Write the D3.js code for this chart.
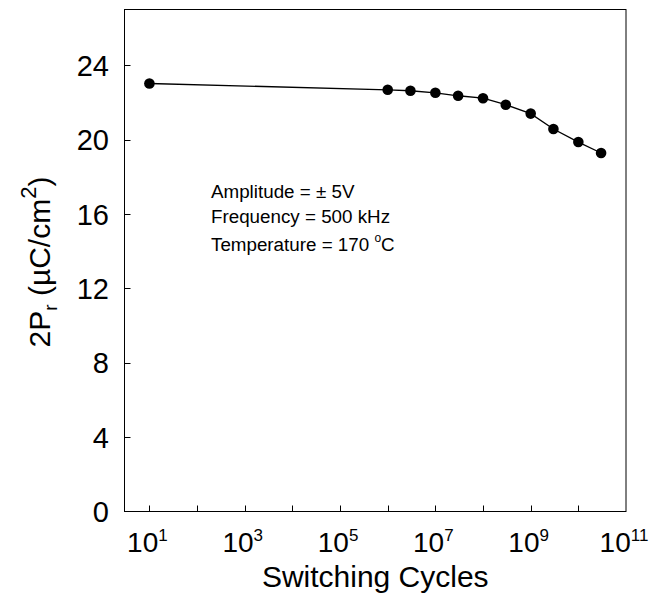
<!DOCTYPE html>
<head>
<meta charset="utf-8">
<style>
  body { margin: 0; background: #fff; }
  text { font-family: Arial, "Liberation Sans", sans-serif; fill: #000; }
</style>
</head>
<body>
<div id='chart'></div>
<script src="https://cdnjs.cloudflare.com/ajax/libs/d3/7.8.5/d3.min.js"></script>
<script>
var cycles = [1e1, 1e6, 3e6, 1e7, 3e7, 1e8, 3e8, 1e9, 3e9, 1e10, 3e10];
var pr2 = [23.02, 22.68, 22.63, 22.52, 22.36, 22.23, 21.88, 21.40, 20.57, 19.87, 19.28];
var xMajor = [1, 3, 5, 7, 9, 11];
var yTicks = [0, 4, 8, 12, 16, 20, 24];
var notes = ['Amplitude = \u00b1 5V', 'Frequency = 500 kHz', 'Temperature = 170 '];

drawChart();

function drawChart() {
  var width = 657, height = 602;
  var left = 124.5, right = 626, top = 9.5, bottom = 511.5;

  var svg = d3.select('#chart').append('svg')
    .attr('width', width)
    .attr('height', height);

  var x = d3.scaleLog().domain([3, 1e11]).range([left, right]);
  var y = d3.scaleLinear().domain([0, 27]).range([bottom, top]);

  // frame
  svg.append('rect')
    .attr('x', left).attr('y', top)
    .attr('width', right - left).attr('height', bottom - top)
    .attr('fill', 'none').attr('stroke', '#000').attr('stroke-width', 1);

  // x ticks, one per decade, pointing in
  var decades = d3.range(1, 11).map(function(e) { return Math.pow(10, e); });
  svg.selectAll('line.xtick').data(decades).enter().append('line')
    .attr('class', 'xtick')
    .attr('x1', function(d) { return Math.round(x(d)) + 0.5; })
    .attr('x2', function(d) { return Math.round(x(d)) + 0.5; })
    .attr('y1', bottom).attr('y2', bottom - 6)
    .attr('stroke', '#000').attr('stroke-width', 1);

  var xl = svg.selectAll('text.xlab').data(xMajor).enter().append('text')
    .attr('class', 'xlab')
    .attr('x', function(d) { return x(Math.pow(10, d)) - 2; })
    .attr('y', 552)
    .attr('text-anchor', 'middle')
    .style('font-size', '28px');
  xl.append('tspan').text('10');
  xl.append('tspan')
    .attr('dy', -11)
    .style('font-size', '17px')
    .text(function(d) { return d; });

  // y ticks
  svg.selectAll('line.ytick').data(yTicks.slice(1)).enter().append('line')
    .attr('class', 'ytick')
    .attr('x1', left).attr('x2', left + 6)
    .attr('y1', function(d) { return Math.round(y(d)) + 0.5; })
    .attr('y2', function(d) { return Math.round(y(d)) + 0.5; })
    .attr('stroke', '#000').attr('stroke-width', 1);

  svg.selectAll('text.ylab').data(yTicks).enter().append('text')
    .attr('class', 'ylab')
    .attr('x', 109)
    .attr('y', function(d) { return y(d) + 10.5; })
    .attr('text-anchor', 'end')
    .style('font-size', '29px')
    .text(function(d) { return d; });

  // axis titles
  svg.append('text')
    .attr('x', (left + right) / 2)
    .attr('y', 587)
    .attr('text-anchor', 'middle')
    .style('font-size', '30px')
    .text('Switching Cycles');

  var yt = svg.append('text')
    .attr('transform', 'translate(50,262) rotate(-90)')
    .attr('text-anchor', 'middle')
    .style('font-size', '30px');
  yt.append('tspan').text('2P');
  yt.append('tspan').attr('dy', 7).style('font-size', '19px').text('r');
  yt.append('tspan').attr('dy', -7).text(' (\u00b5C/cm');
  yt.append('tspan').attr('dy', -14).style('font-size', '22px').text('2');
  yt.append('tspan').attr('dy', 14).text(')');

  // data line and markers
  var pts = cycles.map(function(c, i) { return [c, pr2[i]]; });
  var line = d3.line()
    .x(function(d) { return x(d[0]); })
    .y(function(d) { return y(d[1]); });

  svg.append('path')
    .datum(pts)
    .attr('d', line)
    .attr('fill', 'none')
    .attr('stroke', '#000')
    .attr('stroke-width', 1.3);

  svg.selectAll('circle.pt').data(pts).enter().append('circle')
    .attr('class', 'pt')
    .attr('cx', function(d) { return x(d[0]); })
    .attr('cy', function(d) { return y(d[1]); })
    .attr('r', 5.3)
    .attr('fill', '#000');

  // annotation
  var nt = svg.selectAll('text.note').data(notes).enter().append('text')
    .attr('class', 'note')
    .attr('x', 211)
    .attr('y', function(d, i) { return [198, 223, 251][i]; })
    .style('font-size', '18.8px')
    .text(function(d) { return d; });
  var last = d3.select(nt.nodes()[2]);
  last.append('tspan').attr('dy', -9).style('font-size', '12px').text('o');
  last.append('tspan').attr('dy', 9).text('C');
}
</script>
</body>
</html>
